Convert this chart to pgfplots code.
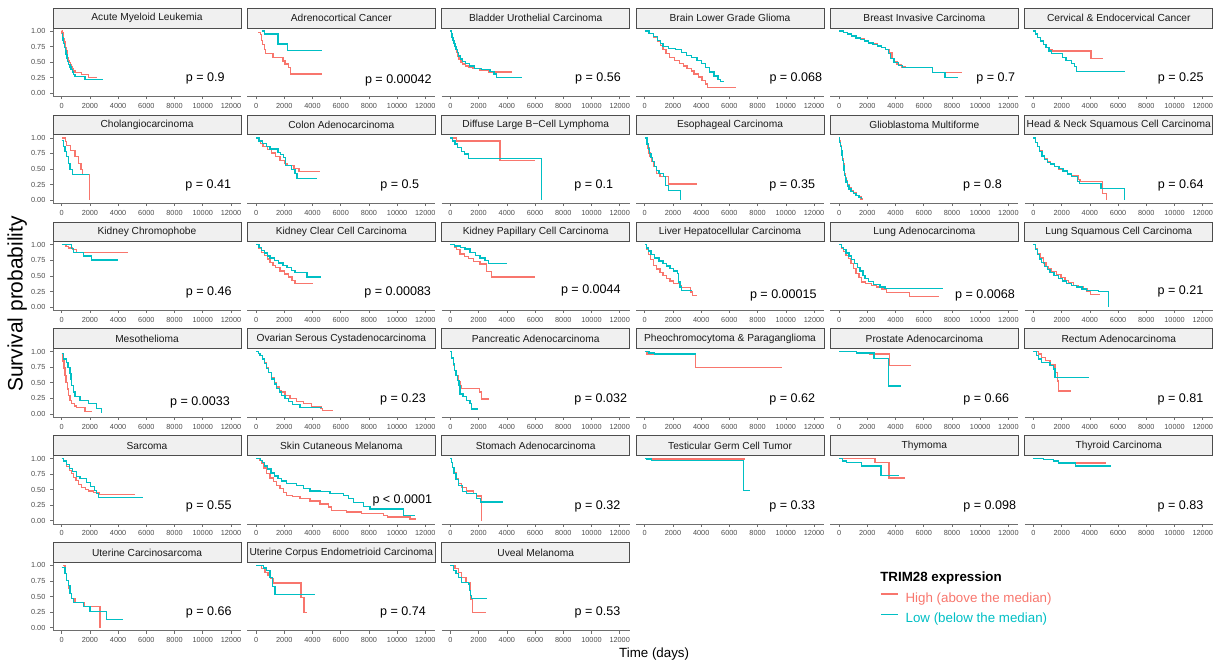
\documentclass[border=0pt]{standalone}
\usepackage{fontspec}
\setmainfont{Liberation Sans}
\usepackage{pgfplots}
\pgfplotsset{compat=1.18}
\definecolor{hi}{HTML}{F8766D}
\definecolor{lo}{HTML}{00BFC4}
\definecolor{stripfill}{HTML}{F0F0F0}
\definecolor{stripline}{HTML}{4D4D4D}
\definecolor{axgray}{HTML}{6E6E6E}
\definecolor{ticktext}{HTML}{4D4D4D}
\pgfplotsset{
  km/.style={
    scale only axis, width=141pt, height=51.375pt,
    xmin=-617, xmax=12709, ymin=-0.05, ymax=1.05,
    axis x line*=bottom,
    scaled x ticks=false, scaled y ticks=false,
    xtick={0,2000,4000,6000,8000,10000,12000},
    xticklabels={0,2000,4000,6000,8000,10000,12000},
    tick align=outside, major tick length=2.2pt,
    every tick/.style={axgray, line width=0.5pt},
    axis line style={axgray, line width=0.55pt},
    tick label style={font=\fontsize{5.5}{6}\selectfont, text=ticktext},
    xticklabel style={yshift=0.6pt},
  },
  ycol/.style={axis y line*=left, ytick={0,0.25,0.5,0.75,1},
    yticklabels={0.00,0.25,0.50,0.75,1.00}},
  nocol/.style={axis y line=none},
  kmline/.style={const plot, line width=1pt, no marks},
  mylegend/.style={
    legend style={at={(2.3314,0.58)}, anchor=north west, draw=none, fill=none,
      inner sep=0pt, font=\fontsize{10}{12}\selectfont,
      nodes={inner sep=0pt, text height=8pt, text depth=2.5pt},
      row sep=4.7pt, column sep=5.25pt, cells={anchor=west}},
    legend image code/.code={\draw[##1] (0pt,3.2pt) -- (12.75pt,3.2pt);},
  },
}
\newcommand\kmlegH{}
\newcommand\kmlegL{}
\newcommand\km[9]{%
  \pgfmathsetmacro\Lx{(53+194.35*#1)*0.75}%
  \pgfmathsetmacro\By{-(96.4+106.88*#2)*0.75}%
  \pgfmathsetmacro\Ty{\By+51.375}%
  \pgfmathsetmacro\Cx{\Lx+70.5}%
  \pgfmathsetmacro\Cy{\Ty+7.3875}%
  \begin{axis}[km, at={(\Lx pt,\By pt)}, anchor=south west, #3]
    \addplot[color=hi, kmline] coordinates {#8};
    \kmlegH
    \addplot[color=lo, kmline] coordinates {#9};
    \kmlegL
    \node[anchor=base, font=\fontsize{9.4}{11}\selectfont] at (axis cs:#6,#7) {#5};
  \end{axis}
  \fill[stripfill] (\Lx pt,\Ty pt) rectangle ++(141pt,14.775pt);
  \begin{scope}
    \clip (\Lx pt,\Ty pt) rectangle ++(141pt,14.775pt);
    \node[font=\fontsize{7.65}{9}\selectfont, text={rgb,255:red,26;green,26;blue,26}, inner sep=0pt] at (\Cx pt,\Cy pt) {#4};
  \end{scope}
  \draw[stripline, line width=0.6pt] (\Lx pt,\Ty pt) rectangle ++(141pt,14.775pt);
}
\begin{document}
\begin{tikzpicture}
\path[use as bounding box] (0pt,0pt) rectangle (918.75pt,-495.75pt);
% Row 1
\km{0}{0}{ycol}{Acute Myeloid Leukemia}{p = 0.9}{10178}{0.186}
{(0,1)(30,0.97)(80,0.93)(130,0.88)(180,0.83)(230,0.78)(280,0.73)(330,0.68)(380,0.63)(430,0.58)(480,0.53)(540,0.49)(600,0.46)(680,0.42)(760,0.39)(850,0.36)(950,0.33)(1400,0.30)(1900,0.25)(2530,0.25)}
{(0,0.95)(40,0.9)(90,0.85)(140,0.8)(190,0.74)(250,0.68)(310,0.62)(370,0.56)(430,0.51)(500,0.46)(580,0.42)(660,0.38)(750,0.34)(850,0.30)(950,0.27)(1650,0.22)(2900,0.22)}
\km{1}{0}{nocol}{Adrenocortical Cancer}{p = 0.00042}{10083}{0.157}
{(150,0.98)(300,0.94)(400,0.85)(480,0.78)(580,0.70)(650,0.64)(1200,0.57)(1900,0.52)(2050,0.47)(2300,0.41)(2450,0.31)(4700,0.31)}
{(400,1)(620,0.95)(1550,0.79)(2250,0.69)(4650,0.69)}
\km{2}{0}{nocol}{Bladder Urothelial Carcinoma}{p = 0.56}{10462}{0.186}
{(0,1)(60,0.95)(120,0.9)(180,0.85)(240,0.8)(300,0.75)(370,0.70)(440,0.65)(520,0.60)(620,0.55)(740,0.50)(880,0.47)(1050,0.44)(1300,0.42)(1600,0.40)(2100,0.37)(2700,0.34)(4350,0.34)}
{(0,1)(60,0.95)(120,0.9)(190,0.85)(260,0.8)(330,0.75)(400,0.7)(480,0.65)(580,0.6)(700,0.55)(850,0.51)(1050,0.48)(1350,0.44)(1700,0.40)(2200,0.38)(2800,0.35)(3100,0.31)(3250,0.25)(5060,0.25)}
\km{3}{0}{nocol}{Brain Lower Grade Glioma}{p = 0.068}{10707}{0.186}
{(0,1)(300,0.96)(600,0.9)(900,0.83)(1100,0.77)(1300,0.70)(1500,0.64)(1750,0.57)(2100,0.53)(2450,0.48)(2750,0.44)(3000,0.40)(3300,0.36)(3500,0.31)(3800,0.26)(4050,0.21)(4300,0.15)(4450,0.09)(6480,0.09)}
{(0,1)(300,0.96)(600,0.91)(900,0.85)(1100,0.80)(1300,0.75)(1700,0.72)(2200,0.70)(2600,0.66)(2950,0.61)(3300,0.58)(3700,0.53)(4000,0.48)(4300,0.41)(4600,0.34)(4900,0.28)(5200,0.22)(5350,0.19)(5640,0.19)}
\km{4}{0}{nocol}{Breast Invasive Carcinoma}{p = 0.7}{11107}{0.186}
{(0,1)(300,0.98)(600,0.95)(900,0.92)(1200,0.89)(1500,0.87)(1800,0.85)(2100,0.82)(2400,0.79)(2700,0.77)(3000,0.74)(3300,0.70)(3550,0.66)(3750,0.56)(3900,0.50)(4100,0.46)(4400,0.42)(4700,0.41)(6600,0.33)(8700,0.33)}
{(0,1)(300,0.98)(600,0.95)(900,0.92)(1200,0.89)(1500,0.86)(1800,0.84)(2100,0.81)(2400,0.78)(2700,0.76)(3000,0.73)(3300,0.70)(3500,0.64)(3650,0.56)(3900,0.49)(4200,0.45)(4500,0.41)(6600,0.33)(7500,0.25)(8450,0.25)}
\km{5}{0}{nocol}{Cervical \& Endocervical Cancer}{p = 0.25}{10444}{0.186}
{(0,1)(150,0.95)(300,0.90)(500,0.84)(700,0.78)(900,0.74)(1100,0.70)(1350,0.68)(4080,0.56)(4900,0.56)}
{(0,1)(150,0.95)(300,0.90)(500,0.84)(700,0.78)(900,0.73)(1100,0.68)(1300,0.64)(2050,0.58)(2300,0.53)(2700,0.48)(2900,0.43)(3050,0.35)(6470,0.35)}
% Row 2
\km{0}{1}{ycol}{Cholangiocarcinoma}{p = 0.41}{10391}{0.19}
{(50,1)(250,0.94)(350,0.88)(600,0.80)(950,0.70)(1180,0.59)(1370,0.49)(1490,0.41)(1960,0)}
{(0,0.96)(120,0.86)(240,0.78)(350,0.70)(470,0.59)(590,0.49)(760,0.41)(1960,0.41)}
\km{1}{1}{nocol}{Colon Adenocarcinoma}{p = 0.5}{10182}{0.19}
{(0,1)(150,0.95)(300,0.91)(500,0.86)(800,0.81)(1100,0.76)(1400,0.70)(1700,0.64)(2000,0.59)(2200,0.56)(2700,0.51)(3050,0.46)(4540,0.46)}
{(0,1)(200,0.95)(450,0.91)(750,0.86)(1000,0.82)(1550,0.77)(1750,0.73)(1950,0.68)(2080,0.56)(2500,0.49)(2750,0.43)(2900,0.35)(4300,0.35)}
\km{2}{1}{nocol}{Diffuse Large B−Cell Lymphoma}{p = 0.1}{10164}{0.19}
{(0,1)(450,0.95)(3520,0.64)(6000,0.64)}
{(0,1)(170,0.95)(330,0.90)(500,0.85)(800,0.78)(1000,0.74)(1280,0.67)(6480,0.0)}
\km{3}{1}{nocol}{Esophageal Carcinoma}{p = 0.35}{10451}{0.19}
{(0,1)(100,0.92)(200,0.84)(300,0.76)(380,0.70)(500,0.62)(620,0.54)(850,0.43)(1090,0.38)(1700,0.26)(3690,0.26)}
{(0,1)(150,0.9)(250,0.82)(350,0.75)(450,0.68)(550,0.62)(700,0.54)(850,0.48)(1000,0.43)(1320,0.38)(1450,0.24)(1680,0.16)(2530,0.0)}
\km{4}{1}{nocol}{Glioblastoma Multiforme}{p = 0.8}{10164}{0.19}
{(0,1)(50,0.95)(100,0.88)(150,0.8)(200,0.73)(250,0.66)(300,0.58)(350,0.50)(400,0.42)(450,0.36)(500,0.31)(600,0.25)(700,0.20)(850,0.15)(1000,0.12)(1200,0.08)(1400,0.05)(1550,0.02)(1680,0.02)}
{(0,1)(50,0.93)(100,0.86)(150,0.79)(200,0.72)(250,0.64)(300,0.56)(350,0.48)(400,0.40)(450,0.34)(500,0.29)(600,0.23)(700,0.18)(850,0.14)(1000,0.11)(1200,0.07)(1400,0.04)(1600,0.02)}
\km{5}{1}{nocol}{Head \& Neck Squamous Cell Carcinoma}{p = 0.64}{10444}{0.19}
{(0,1)(150,0.93)(300,0.86)(450,0.79)(600,0.72)(800,0.66)(1000,0.62)(1200,0.58)(1500,0.54)(1800,0.50)(2100,0.47)(2400,0.43)(2700,0.40)(3200,0.33)(3300,0.30)(4870,0.11)(5180,0.0)}
{(0,1)(150,0.93)(300,0.86)(450,0.78)(600,0.71)(800,0.65)(1000,0.61)(1200,0.58)(1500,0.54)(1800,0.51)(2100,0.47)(2400,0.42)(2700,0.38)(3100,0.30)(3250,0.27)(4780,0.19)(6450,0.0)}
% Row 3
\km{0}{2}{ycol}{Kidney Chromophobe}{p = 0.46}{10419}{0.178}
{(100,1)(300,0.97)(500,0.95)(750,0.92)(1050,0.88)(4730,0.88)}
{(0,1)(710,0.94)(830,0.88)(1540,0.82)(2130,0.755)(4020,0.755)}
\km{1}{2}{nocol}{Kidney Clear Cell Carcinoma}{p = 0.00083}{10040}{0.178}
{(0,1)(200,0.94)(400,0.88)(600,0.83)(800,0.77)(1000,0.72)(1200,0.67)(1400,0.63)(1700,0.58)(2000,0.53)(2300,0.48)(2550,0.43)(2770,0.38)(4070,0.38)}
{(0,1)(200,0.96)(400,0.91)(600,0.87)(800,0.82)(1000,0.79)(1300,0.75)(1600,0.71)(1900,0.67)(2200,0.63)(2500,0.59)(2770,0.56)(3600,0.48)(4590,0.48)}
\km{2}{2}{nocol}{Kidney Papillary Cell Carcinoma}{p = 0.0044}{9952}{0.215}
{(0,1)(300,0.96)(450,0.92)(690,0.85)(1000,0.81)(1280,0.78)(1630,0.73)(2100,0.69)(2570,0.57)(2930,0.48)(6000,0.48)}
{(0,1)(300,0.98)(700,0.96)(1040,0.93)(1400,0.88)(1800,0.83)(2100,0.79)(2450,0.75)(2700,0.70)(4000,0.70)}
\km{3}{2}{nocol}{Liver Hepatocellular Carcinoma}{p = 0.00015}{9821}{0.141}
{(0,1)(100,0.93)(260,0.84)(400,0.76)(610,0.67)(850,0.61)(1090,0.56)(1300,0.51)(1560,0.46)(1800,0.42)(2030,0.38)(2500,0.35)(2600,0.31)(3250,0.24)(3400,0.19)(3730,0.19)}
{(0,1)(100,0.95)(250,0.90)(450,0.84)(700,0.79)(1000,0.74)(1300,0.70)(1560,0.66)(1800,0.62)(2030,0.58)(2300,0.54)(2400,0.40)(2500,0.32)(2600,0.27)(3330,0.27)}
\km{4}{2}{nocol}{Lung Adenocarcinoma}{p = 0.0068}{10341}{0.141}
{(0,1)(150,0.95)(300,0.89)(500,0.83)(660,0.78)(850,0.70)(1020,0.62)(1200,0.54)(1400,0.47)(1610,0.40)(1850,0.38)(2300,0.35)(2670,0.32)(3000,0.29)(3380,0.23)(4990,0.165)(7110,0.165)}
{(0,1)(150,0.96)(300,0.92)(500,0.87)(700,0.82)(900,0.76)(1100,0.70)(1300,0.64)(1490,0.58)(1700,0.51)(1840,0.46)(2080,0.41)(2430,0.36)(2900,0.32)(3260,0.30)(7350,0.30)}
\km{5}{2}{nocol}{Lung Squamous Cell Carcinoma}{p = 0.21}{10423}{0.194}
{(0,1)(150,0.93)(300,0.86)(470,0.79)(700,0.71)(900,0.65)(1060,0.61)(1300,0.57)(1650,0.52)(1950,0.47)(2240,0.43)(2500,0.39)(2840,0.35)(3200,0.32)(3550,0.29)(3800,0.26)(4020,0.20)(4750,0.20)}
{(0,1)(150,0.92)(300,0.84)(450,0.77)(590,0.72)(800,0.65)(1000,0.60)(1180,0.56)(1450,0.51)(1770,0.46)(2050,0.42)(2360,0.38)(2700,0.35)(3070,0.32)(3450,0.29)(3780,0.27)(4600,0.245)(5320,0.0)}
% Row 4
\km{0}{3}{ycol}{Mesothelioma}{p = 0.0033}{9803}{0.143}
{(0,0.95)(100,0.85)(165,0.74)(240,0.62)(310,0.51)(400,0.40)(470,0.30)(590,0.22)(710,0.17)(900,0.13)(1060,0.10)(1650,0.04)(2130,0.04)}
{(0,0.97)(150,0.88)(350,0.83)(450,0.75)(590,0.65)(650,0.55)(710,0.46)(830,0.35)(950,0.28)(1300,0.22)(1890,0.17)(2480,0.09)(2840,0.01)}
\km{1}{3}{nocol}{Ovarian Serous Cystadenocarcinoma}{p = 0.23}{10416}{0.186}
{(0,1)(150,0.97)(280,0.94)(450,0.88)(600,0.82)(760,0.74)(900,0.67)(1110,0.58)(1300,0.50)(1470,0.43)(1650,0.38)(1820,0.35)(2060,0.30)(2410,0.25)(2880,0.20)(3360,0.17)(3950,0.12)(4600,0.09)(4730,0.06)(5480,0.06)}
{(0,1)(150,0.97)(280,0.94)(450,0.88)(600,0.81)(760,0.73)(900,0.66)(1110,0.56)(1300,0.48)(1470,0.41)(1650,0.35)(1820,0.30)(2050,0.25)(2290,0.20)(2600,0.15)(3120,0.10)(4660,0.10)}
\km{2}{3}{nocol}{Pancreatic Adenocarcinoma}{p = 0.032}{10660}{0.186}
{(0,1)(100,0.90)(210,0.78)(300,0.70)(400,0.62)(550,0.52)(700,0.46)(800,0.41)(2060,0.35)(2220,0.24)(2760,0.24)}
{(0,1)(100,0.90)(200,0.80)(300,0.70)(400,0.62)(500,0.54)(600,0.46)(690,0.32)(900,0.28)(1160,0.22)(1390,0.17)(1510,0.08)(1980,0.08)}
\km{3}{3}{nocol}{Pheochromocytoma \& Paraganglioma}{p = 0.62}{10451}{0.186}
{(0,1)(150,0.95)(3620,0.75)(9720,0.75)}
{(0,1)(300,0.98)(700,0.96)(3600,0.96)}
\km{4}{3}{nocol}{Prostate Adenocarcinoma}{p = 0.66}{10434}{0.186}
{(0,1)(1250,0.98)(2200,0.96)(3570,0.78)(5080,0.78)}
{(0,1)(1250,0.98)(2480,0.89)(3500,0.45)(4370,0.45)}
\km{5}{3}{nocol}{Rectum Adenocarcinoma}{p = 0.81}{10423}{0.186}
{(100,1)(350,0.96)(590,0.91)(830,0.86)(1180,0.79)(1530,0.67)(1700,0.53)(1780,0.37)(2650,0.37)}
{(0,1)(200,0.94)(350,0.88)(590,0.83)(1180,0.78)(1420,0.72)(1530,0.59)(3970,0.59)}
% Row 5
\km{0}{4}{ycol}{Sarcoma}{p = 0.55}{10419}{0.189}
{(0,1)(150,0.95)(350,0.87)(550,0.81)(710,0.76)(850,0.70)(1020,0.65)(1200,0.58)(1420,0.54)(1700,0.50)(1890,0.48)(2250,0.46)(2650,0.42)(5200,0.42)}
{(0,1)(150,0.96)(350,0.90)(550,0.84)(750,0.79)(1060,0.71)(1300,0.68)(1770,0.62)(2050,0.55)(2320,0.49)(2450,0.44)(2600,0.37)(5790,0.37)}
\km{1}{4}{nocol}{Skin Cutaneous Melanoma}{p < 0.0001}{10366}{0.28}
{(0,1)(250,0.97)(400,0.92)(550,0.85)(760,0.76)(1000,0.69)(1230,0.63)(1450,0.57)(1700,0.52)(1950,0.46)(2170,0.41)(2600,0.39)(3120,0.36)(3830,0.32)(4540,0.27)(5130,0.22)(5370,0.17)(6430,0.14)(7490,0.12)(9030,0.09)(9300,0.06)(10920,0.03)(11350,0.03)}
{(0,1)(300,0.97)(450,0.94)(620,0.88)(800,0.83)(1050,0.77)(1300,0.72)(1550,0.68)(1820,0.64)(2170,0.60)(2880,0.57)(3360,0.52)(3830,0.48)(4540,0.47)(5250,0.44)(6190,0.41)(6550,0.36)(6900,0.29)(7600,0.23)(8080,0.19)(10450,0.09)(11280,0.09)}
\km{2}{4}{nocol}{Stomach Adenocarcinoma}{p = 0.32}{10427}{0.189}
{(0,1)(80,0.94)(160,0.86)(260,0.77)(400,0.68)(570,0.60)(800,0.53)(1160,0.48)(1630,0.44)(1870,0.40)(2220,0.0)}
{(0,1)(80,0.94)(160,0.86)(260,0.76)(400,0.66)(570,0.57)(850,0.47)(1160,0.44)(1870,0.36)(2150,0.30)(3760,0.30)}
\km{3}{4}{nocol}{Testicular Germ Cell Tumor}{p = 0.33}{10451}{0.189}
{(0,1)(500,0.99)(7080,0.99)}
{(0,1)(150,0.99)(500,0.97)(6990,0.49)(7450,0.49)}
\km{4}{4}{nocol}{Thymoma}{p = 0.098}{10674}{0.189}
{(300,1)(2550,0.94)(3540,0.69)(4680,0.69)}
{(0,1)(230,0.96)(540,0.94)(1610,0.88)(2980,0.73)(4280,0.73)}
\km{5}{4}{nocol}{Thyroid Carcinoma}{p = 0.83}{10423}{0.189}
{(0,1)(700,0.98)(1400,0.96)(1770,0.94)(3070,0.93)(5150,0.93)}
{(0,1)(700,0.98)(1400,0.96)(1770,0.93)(3000,0.88)(5480,0.88)}
% Row 6
\km{0}{5}{ycol}{Uterine Carcinosarcoma}{p = 0.66}{10419}{0.188}
{(100,1)(240,0.87)(350,0.76)(470,0.63)(590,0.55)(710,0.47)(950,0.40)(1610,0.34)(2720,0.0)}
{(0,0.97)(240,0.87)(350,0.76)(470,0.68)(590,0.55)(710,0.47)(830,0.40)(1540,0.34)(2010,0.26)(3190,0.13)(4330,0.13)}
\km{1}{5}{nocol}{Uterine Corpus Endometrioid Carcinoma}{p = 0.74}{10416}{0.188}
{(0,1)(400,0.95)(640,0.89)(850,0.84)(1040,0.79)(1230,0.72)(3190,0.48)(3400,0.24)(3640,0.24)}
{(0,1)(520,0.96)(750,0.92)(1000,0.81)(1180,0.66)(1350,0.53)(4180,0.53)}
\renewcommand\kmlegH{\addlegendentry[text=hi]{High (above the median)}}
\renewcommand\kmlegL{\addlegendentry[text=lo]{Low (below the median)}}
\km{2}{5}{nocol, mylegend}{Uveal Melanoma}{p = 0.53}{10427}{0.19}
{(0,1)(330,0.95)(570,0.89)(800,0.81)(1110,0.73)(1440,0.45)(1580,0.24)(2530,0.24)}
{(0,1)(200,0.92)(400,0.87)(570,0.81)(800,0.73)(1280,0.70)(1350,0.60)(1440,0.52)(1510,0.47)(2620,0.47)}
% Titles and labels
\node[anchor=base west, font=\fontsize{10}{12}\selectfont\bfseries, inner sep=0pt] at (660pt,-436.3pt) {TRIM28 expression};
\node[anchor=base, font=\fontsize{10}{12}\selectfont, inner sep=0pt] at (490.6pt,-492.8pt) {Time (days)};
\node[anchor=base, rotate=90, font=\fontsize{15.7}{18}\selectfont, inner sep=0pt] at (17pt,-228pt) {Survival probability};
\end{tikzpicture}
\end{document}
